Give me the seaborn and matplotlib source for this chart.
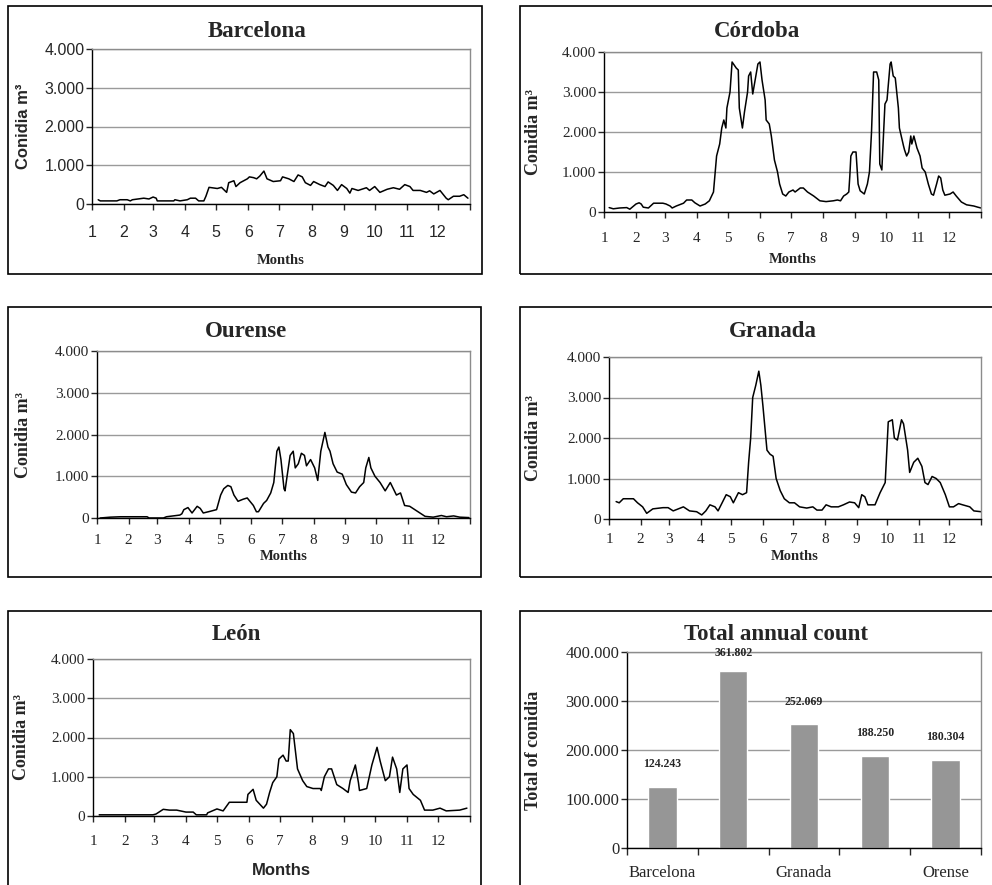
import matplotlib
matplotlib.use("Agg")
import matplotlib.pyplot as plt
import seaborn as sns
import pandas as pd
from matplotlib.patches import Rectangle

W, H = 992, 885

# day of year where each month starts (axis labelled 1..12)
month_starts = [0, 31, 59, 90, 120, 151, 181, 212, 243, 273, 304, 334, 365]
month_labels = ["1", "2", "3", "4", "5", "6", "7", "8", "9", "10", "11", "12", ""]
conidia_ticks = [0, 1000, 2000, 3000, 4000]

# (day of year, conidia m3)
barcelona = [(6, 110), (8, 80), (24, 80), (27, 110), (34, 110), (37, 80), (39, 110),
             (50, 150), (55, 130), (59, 180), (62, 150), (63, 80), (79, 80), (80, 110),
             (85, 80), (92, 110), (95, 150), (100, 150), (103, 80), (108, 80), (110, 200),
             (113, 430), (121, 400), (125, 430), (130, 300), (132, 550), (137, 600),
             (139, 450), (143, 550), (150, 650), (152, 700), (156, 680), (159, 650),
             (162, 720), (166, 850), (169, 650), (175, 580), (182, 600), (184, 700),
             (190, 650), (195, 580), (199, 750), (203, 700), (206, 550), (211, 480),
             (214, 580), (220, 500), (225, 450), (228, 570), (233, 480), (237, 350),
             (241, 500), (246, 400), (249, 280), (251, 400), (257, 350), (265, 420),
             (268, 350), (273, 450), (278, 300), (285, 380), (291, 420), (297, 380),
             (302, 500), (307, 450), (310, 350), (317, 350), (323, 300), (326, 340),
             (330, 260), (336, 350), (342, 150), (344, 110), (349, 200), (355, 200),
             (359, 240), (363, 150)]

cordoba = [(5, 110), (9, 80), (15, 100), (22, 110), (25, 70), (31, 200), (34, 230),
           (36, 200), (38, 120), (43, 100), (48, 220), (57, 220), (60, 200), (64, 150),
           (66, 100), (70, 150), (77, 220), (80, 300), (85, 300), (88, 230), (93, 150),
           (98, 200), (102, 280), (106, 500), (109, 1400), (112, 1700), (114, 2100),
           (116, 2300), (118, 2100), (119, 2600), (122, 3000), (124, 3750), (128, 3600),
           (130, 3550), (131, 2600), (134, 2100), (136, 2500), (139, 3000), (140, 3400),
           (142, 3500), (144, 2950), (146, 3250), (149, 3700), (151, 3750), (153, 3300),
           (156, 2800), (157, 2300), (160, 2200), (162, 1900), (165, 1300), (168, 1000),
           (170, 700), (173, 450), (176, 400), (179, 500), (183, 550), (185, 500),
           (190, 600), (193, 600), (197, 500), (203, 400), (209, 280), (215, 260),
           (222, 280), (226, 300), (229, 280), (232, 400), (235, 450), (237, 500),
           (238, 900), (239, 1400), (241, 1500), (244, 1500), (246, 700), (248, 530),
           (252, 450), (255, 700), (257, 1000), (259, 2000), (261, 3500), (264, 3500),
           (266, 3300), (267, 1200), (269, 1050), (270, 1600), (272, 2700), (274, 2800),
           (277, 3700), (278, 3750), (280, 3400), (282, 3350), (285, 2600), (286, 2100),
           (290, 1650), (291, 1550), (293, 1400), (295, 1500), (297, 1900), (298, 1700),
           (300, 1900), (303, 1600), (306, 1400), (308, 1100), (311, 1000), (314, 700),
           (317, 450), (319, 420), (322, 700), (324, 900), (326, 850), (328, 550),
           (330, 420), (335, 450), (338, 500), (341, 400), (346, 250), (351, 180),
           (358, 150), (362, 120), (365, 100)]

ourense = [(3, 0), (13, 20), (23, 30), (49, 30), (51, 0), (65, 0), (68, 30), (81, 70),
           (83, 100), (85, 200), (89, 250), (93, 120), (98, 280), (101, 230), (104, 120),
           (109, 150), (117, 200), (121, 550), (124, 700), (128, 780), (131, 750),
           (134, 550), (138, 400), (143, 450), (147, 480), (153, 300), (156, 150),
           (158, 150), (163, 350), (166, 420), (170, 600), (173, 850), (176, 1600),
           (178, 1700), (180, 1400), (183, 700), (184, 650), (186, 1000), (189, 1500),
           (192, 1600), (194, 1200), (197, 1300), (200, 1550), (203, 1500), (205, 1250),
           (209, 1400), (213, 1200), (216, 900), (219, 1600), (223, 2050), (226, 1700),
           (228, 1600), (231, 1300), (235, 1100), (240, 1050), (244, 800), (249, 620),
           (253, 600), (257, 750), (261, 850), (263, 1200), (266, 1450), (268, 1200),
           (272, 1000), (277, 850), (282, 650), (287, 850), (290, 700), (293, 550),
           (297, 600), (301, 300), (306, 280), (311, 200), (316, 120), (321, 40),
           (329, 20), (337, 60), (342, 30), (349, 50), (355, 20), (364, 10)]

granada = [(7, 430), (10, 400), (14, 500), (24, 500), (28, 400), (33, 300), (37, 140),
           (43, 250), (53, 280), (58, 280), (63, 200), (73, 300), (79, 200), (86, 180),
           (91, 100), (95, 200), (99, 350), (104, 300), (107, 200), (112, 450), (115, 600),
           (119, 550), (122, 400), (127, 650), (131, 600), (135, 650), (137, 1400),
           (139, 2000), (141, 3000), (144, 3300), (147, 3650), (149, 3300), (151, 2800),
           (155, 1700), (158, 1600), (161, 1550), (164, 1000), (168, 700), (172, 500),
           (177, 400), (182, 400), (187, 300), (194, 270), (200, 300), (204, 220),
           (209, 220), (213, 350), (218, 300), (225, 300), (230, 350), (236, 420),
           (241, 400), (245, 280), (248, 600), (251, 550), (254, 350), (261, 350),
           (266, 650), (271, 900), (274, 2400), (278, 2450), (280, 2000), (283, 1950),
           (285, 2200), (287, 2450), (289, 2350), (293, 1700), (295, 1150), (299, 1400),
           (303, 1500), (307, 1300), (310, 900), (313, 850), (317, 1050), (321, 1000),
           (325, 900), (330, 600), (334, 300), (338, 300), (343, 380), (347, 350),
           (354, 300), (358, 200), (365, 180)]

leon = [(6, 30), (58, 30), (61, 50), (68, 170), (74, 150), (81, 150), (90, 100), (97, 100),
        (100, 30), (110, 30), (111, 80), (120, 180), (126, 130), (132, 350), (142, 350),
        (149, 350), (150, 550), (155, 680), (158, 400), (165, 200), (168, 300), (171, 600),
        (174, 850), (178, 1000), (180, 1450), (184, 1550), (187, 1400), (189, 1400),
        (191, 2200), (194, 2100), (198, 1200), (203, 900), (207, 750), (213, 700),
        (220, 700), (221, 650), (224, 1000), (228, 1200), (231, 1200), (236, 800),
        (242, 700), (247, 600), (249, 900), (254, 1300), (257, 850), (258, 650),
        (265, 700), (270, 1300), (275, 1750), (278, 1400), (283, 900), (287, 1000),
        (290, 1500), (294, 1200), (297, 600), (300, 1200), (304, 1300), (306, 700),
        (310, 550), (317, 400), (321, 150), (329, 150), (336, 200), (342, 130),
        (355, 150), (362, 200)]

cities = ["Barcelona", "Córdoba", "Granada", "León", "Orense"]
totals = [124243, 361802, 252069, 188250, 180304]
city_tick_labels = ["Barcelona", "", "Granada", "", "Orense"]
total_ticks = [0, 100000, 200000, 300000, 400000]

sns.set_style("white")
plt.rcParams["font.family"] = ["Liberation Serif", "DejaVu Serif"]

SERIF = "Liberation Serif"
SANS = "Liberation Sans"


def dots(v):
    return f"{v:,}".replace(",", ".")


def px_axes(fig, left, top, right, bottom):
    return fig.add_axes([left / W, 1 - bottom / H, (right - left) / W, (bottom - top) / H])


def frame(ax):
    for s in ["left", "bottom"]:
        ax.spines[s].set_color("black")
        ax.spines[s].set_linewidth(1.0)
    for s in ["top", "right"]:
        ax.spines[s].set_color("#8c8c8c")
        ax.spines[s].set_linewidth(1.0)
    ax.grid(axis="y", color="#9a9a9a", lw=1.0)
    ax.grid(axis="x", visible=False)
    ax.set_axisbelow(True)


def add_title(ax, text, x, pad_px):
    ax.annotate(text, xy=(x, 1), xycoords="axes fraction", xytext=(0, pad_px * 0.72),
                textcoords="offset points", ha="center", va="baseline",
                fontsize=16.5, fontweight="bold", family=SERIF)


def line_panel(ax, pairs, title, title_x, title_pad, xpad, xlabel_y, ylabel_x,
               tick_font=SERIF, ylabel_font=SERIF, xlabel_font=SERIF):
    df = pd.DataFrame(pairs, columns=["day", "conidia"])
    sns.lineplot(data=df, x="day", y="conidia", ax=ax, color="black", lw=1.1,
                 estimator=None)
    frame(ax)
    ax.set_xlim(0, 365)
    ax.set_ylim(0, 4000)
    ax.set_xticks(month_starts)
    ax.set_xticklabels(month_labels)
    ax.set_yticks(conidia_ticks)
    ax.set_yticklabels([dots(v) for v in conidia_ticks])
    size = 11.5 if tick_font == SANS else 11
    ax.tick_params(axis="x", bottom=True, length=4, width=1, pad=xpad, labelsize=size)
    ax.tick_params(axis="y", left=True, length=4, width=1, pad=1.5, labelsize=size)
    for lab in ax.get_xticklabels() + ax.get_yticklabels():
        lab.set_family(tick_font)
    ax.set_xlabel("Months", fontsize=12 if xlabel_font == SANS else 10.5,
                  fontweight="bold", family=xlabel_font)
    ax.xaxis.set_label_coords(0.5, xlabel_y)
    ax.set_ylabel("Conidia m³", fontsize=13 if ylabel_font == SERIF else 12,
                  fontweight="bold", family=ylabel_font)
    ax.yaxis.set_label_coords(ylabel_x, 0.5)
    add_title(ax, title, title_x, title_pad)


fig = plt.figure(figsize=(W / 100, H / 100), dpi=100)

# boxes around each chart
for (x0, y0, x1, y1) in [(8, 6, 482, 274), (520, 6, 995, 274), (8, 307, 481, 577),
                         (520, 307, 995, 577), (8, 611, 481, 890), (520, 611, 995, 890)]:
    fig.add_artist(Rectangle((x0 / W, 1 - y1 / H), (x1 - x0) / W, (y1 - y0) / H,
                             transform=fig.transFigure, fill=False, ec="black", lw=1.2))

ax = px_axes(fig, 92, 49, 470, 204)
line_panel(ax, barcelona, "Barcelona", 0.437, 12, 11, -0.323, -0.161,
           tick_font=SANS, ylabel_font=SANS)

ax = px_axes(fig, 604, 52, 981, 212)
line_panel(ax, cordoba, "Córdoba", 0.406, 15, 10.5, -0.256, -0.164)

ax = px_axes(fig, 97, 351, 470, 518)
line_panel(ax, ourense, "Ourense", 0.40, 14, 7.6, -0.19, -0.174)

ax = px_axes(fig, 609, 357, 981, 519)
line_panel(ax, granada, "Granada", 0.44, 20, 6, -0.19, -0.18)

ax = px_axes(fig, 93, 659, 470, 816)
line_panel(ax, leon, "León", 0.38, 19, 10, -0.30, -0.167, xlabel_font=SANS)

# total annual count
ax = px_axes(fig, 627, 652, 981, 848)
bars = pd.DataFrame({"city": cities, "total": totals})
sns.barplot(data=bars, x="city", y="total", ax=ax, color="#969696", saturation=1,
            width=0.4)
frame(ax)
ax.set_xlim(-0.5, len(cities) - 0.5)
ax.set_ylim(0, 400000)
ax.set_yticks(total_ticks)
ax.set_yticklabels([dots(v) for v in total_ticks])
ax.set_xticks(range(len(cities)))
ax.set_xticklabels(city_tick_labels)
ax.set_xticks([i - 0.5 for i in range(len(cities) + 1)], minor=True)
ax.tick_params(axis="x", which="major", bottom=True, length=0, pad=12, labelsize=12)
ax.tick_params(axis="x", which="minor", bottom=True, length=5, width=1)
ax.tick_params(axis="y", left=True, length=4, width=1, pad=1.5, labelsize=12)
ax.set_xlabel("")
ax.set_ylabel("Total of conidia", fontsize=13, fontweight="bold")
ax.yaxis.set_label_coords(-0.24, 0.5)

# value labels above the bars, kept inside the plot area like Excel does
ymax = ax.get_ylim()[1]
plot_h_pt = (848 - 652) * 0.72
for patch, v in zip(ax.patches, totals):
    room_pt = (ymax - patch.get_height()) / ymax * plot_h_pt
    pad = min(12, room_pt - 5)
    ax.annotate(dots(v), xy=(patch.get_x() + patch.get_width() / 2, patch.get_height()),
                xytext=(0, pad), textcoords="offset points", ha="center", va="bottom",
                fontsize=8.5, fontweight="bold")
add_title(ax, "Total annual count", 0.42, 12)

fig.savefig("out.png", dpi=100)
